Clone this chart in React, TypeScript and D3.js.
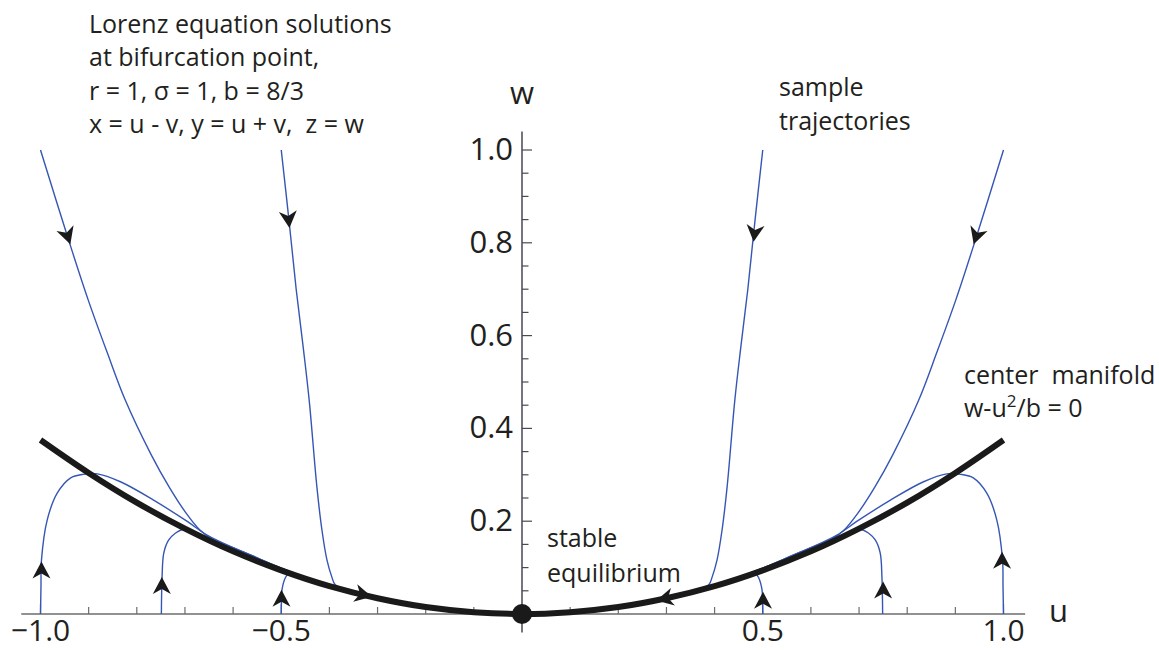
import React from 'react';
import * as d3 from 'd3';

const W = 1159;
const H = 650;

// center manifold w = u^2/b
const manifoldU = [-1.0, -0.9, -0.8, -0.7, -0.6, -0.5, -0.4, -0.3, -0.2, -0.1, 0, 0.1, 0.2, 0.3, 0.4, 0.5, 0.6, 0.7, 0.8, 0.9, 1.0];
const manifoldW = [0.375, 0.304, 0.240, 0.184, 0.135, 0.094, 0.060, 0.034, 0.015, 0.004, 0, 0.004, 0.015, 0.034, 0.060, 0.094, 0.135, 0.184, 0.240, 0.304, 0.375];

// sample trajectories, [u, w]
const trajTopLeftOuter = [[-1.0, 1.0], [-0.941, 0.804], [-0.901, 0.677], [-0.862, 0.565], [-0.824, 0.461], [-0.77, 0.343], [-0.733, 0.274], [-0.698, 0.218], [-0.669, 0.181], [-0.64, 0.159], [-0.6, 0.143], [-0.55, 0.121], [-0.5, 0.099], [-0.45, 0.079], [-0.4, 0.062]];
const trajTopLeftInner = [[-0.5, 1.0], [-0.484, 0.849], [-0.469, 0.7], [-0.455, 0.58], [-0.442, 0.461], [-0.426, 0.274], [-0.4155, 0.181], [-0.405, 0.116], [-0.395, 0.08], [-0.388, 0.063], [-0.37, 0.054], [-0.34, 0.045]];
const trajBottomLeftOuter = [[-1.0, 0.0], [-0.999, 0.06], [-0.998, 0.116], [-0.986, 0.203], [-0.965, 0.261], [-0.938, 0.293], [-0.911, 0.301], [-0.882, 0.302], [-0.834, 0.285], [-0.766, 0.246], [-0.696, 0.2], [-0.654, 0.17], [-0.6, 0.143], [-0.55, 0.121], [-0.5, 0.099], [-0.45, 0.079], [-0.4, 0.062]];
const trajBottomLeftMid = [[-0.749, 0.0], [-0.7485, 0.04], [-0.7475, 0.08], [-0.744, 0.131], [-0.734, 0.159], [-0.72, 0.174], [-0.703, 0.182], [-0.68, 0.172], [-0.64, 0.153], [-0.6, 0.135], [-0.55, 0.113]];
const trajBottomLeftInner = [[-0.5, 0.0], [-0.4995, 0.03], [-0.4985, 0.052], [-0.4917, 0.0776], [-0.4855, 0.086], [-0.47, 0.083], [-0.45, 0.076]];

const trajTopRightOuter = [[1.0, 1.0], [0.941, 0.804], [0.901, 0.677], [0.862, 0.565], [0.824, 0.461], [0.77, 0.343], [0.733, 0.274], [0.698, 0.218], [0.669, 0.181], [0.64, 0.159], [0.6, 0.143], [0.55, 0.121], [0.5, 0.099], [0.45, 0.079], [0.4, 0.062]];
const trajTopRightInner = [[0.5, 1.0], [0.484, 0.849], [0.469, 0.7], [0.455, 0.58], [0.442, 0.461], [0.426, 0.274], [0.4155, 0.181], [0.405, 0.116], [0.395, 0.08], [0.388, 0.063], [0.37, 0.054], [0.34, 0.045]];
const trajBottomRightOuter = [[1.0, 0.0], [0.999, 0.06], [0.998, 0.116], [0.986, 0.203], [0.965, 0.261], [0.938, 0.293], [0.911, 0.301], [0.882, 0.302], [0.834, 0.285], [0.766, 0.246], [0.696, 0.2], [0.654, 0.17], [0.6, 0.143], [0.55, 0.121], [0.5, 0.099], [0.45, 0.079], [0.4, 0.062]];
const trajBottomRightMid = [[0.749, 0.0], [0.7485, 0.04], [0.7475, 0.08], [0.744, 0.131], [0.734, 0.159], [0.72, 0.174], [0.703, 0.182], [0.68, 0.172], [0.64, 0.153], [0.6, 0.135], [0.55, 0.113]];
const trajBottomRightInner = [[0.5, 0.0], [0.4995, 0.03], [0.4985, 0.052], [0.4917, 0.0776], [0.4855, 0.086], [0.47, 0.083], [0.45, 0.076]];

const trajectories = [
  trajTopLeftOuter, trajTopLeftInner, trajBottomLeftOuter, trajBottomLeftMid, trajBottomLeftInner,
  trajTopRightOuter, trajTopRightInner, trajBottomRightOuter, trajBottomRightMid, trajBottomRightInner,
];

// arrowheads: tip and a point just behind it, [u, w]
const arrowTips = [[-0.938, 0.797], [-0.483, 0.832], [-0.998, 0.113], [-0.748, 0.08], [-0.4995, 0.052], [-0.312, 0.037],
  [0.938, 0.797], [0.481, 0.802], [0.997, 0.134], [0.75, 0.07], [0.5006, 0.048], [0.279, 0.029]];
const arrowTails = [[-0.96, 0.866], [-0.4875, 0.881], [-0.998, 0.05], [-0.748, 0.03], [-0.4995, 0.01], [-0.36, 0.0486],
  [0.96, 0.866], [0.4875, 0.86], [0.997, 0.07], [0.75, 0.02], [0.5006, 0.01], [0.33, 0.041]];

const xTickValues = [-1.0, -0.5, 0.5, 1.0];
const xTickLabels = ['\u22121.0', '\u22120.5', '0.5', '1.0'];
const yTickValues = [0.2, 0.4, 0.6, 0.8, 1.0];
const yTickLabels = ['0.2', '0.4', '0.6', '0.8', '1.0'];

const titleLines = ['Lorenz equation solutions', 'at bifurcation point,', 'r = 1, \u03c3 = 1, b = 8/3', 'x = u - v, y = u + v,  z = w'];

const FONT = "'Open Sans', 'DejaVu Sans', sans-serif";
const INK = '#231f20';
const BLUE = '#3556b4';

export default function App() {
  const x = d3.scaleLinear().domain([-1, 1]).range([40.5, 1003.5]);
  const y = d3.scaleLinear().domain([0, 1]).range([614, 150]);

  const line = d3.line<number[]>().x((d) => x(d[0])).y((d) => y(d[1])).curve(d3.curveCatmullRom.alpha(0.5));
  const manifold = manifoldU.map((u, i) => [u, manifoldW[i]]);

  const xMinor = d3.range(-10, 11).map((i) => i / 10).filter((v) => Math.abs(v) > 1e-9);
  const yMinor = d3.range(1, 21).map((i) => i / 20);

  const arrowPath = 'M0,0 L-17,-9 L-12,0 L-17,9 Z';

  return (
    <svg width={W} height={H} style={{ position: 'absolute', left: 0, top: 0, background: '#fff' }} fontFamily={FONT}>
      {/* x axis */}
      <line x1={x(-1.04)} x2={x(1.045)} y1={y(0)} y2={y(0)} stroke="#6d6d6d" strokeWidth={1.3} />
      {xMinor.map((v) => {
        const major = Math.abs(v * 2 - Math.round(v * 2)) < 1e-9;
        return <line key={'xt' + v} x1={x(v)} x2={x(v)} y1={y(0)} y2={y(0) - (major ? 10 : 7)} stroke="#6d6d6d" strokeWidth={1.2} />;
      })}
      {xTickValues.map((v, i) => (
        <text key={'xl' + v} x={x(v)} y={641} textAnchor="middle" fontSize={30} fill={INK}>{xTickLabels[i]}</text>
      ))}
      <text x={1049} y={622} fontSize={31} fill={INK}>u</text>

      {/* y axis */}
      <line x1={x(0)} x2={x(0)} y1={y(-0.04)} y2={y(1.04)} stroke="#2b2b3a" strokeWidth={1.3} />
      {yMinor.map((v) => {
        const major = Math.abs(v * 5 - Math.round(v * 5)) < 1e-9;
        return <line key={'yt' + v} x1={x(0)} x2={x(0) + (major ? 10 : 6.5)} y1={y(v)} y2={y(v)} stroke="#4a4a55" strokeWidth={1.2} />;
      })}
      {yTickValues.map((v, i) => (
        <text key={'yl' + v} x={513} y={y(v) + 10} textAnchor="end" fontSize={31} fill={INK}>{yTickLabels[i]}</text>
      ))}
      <text x={x(0)} y={104} textAnchor="middle" fontSize={31} fill={INK}>w</text>

      {/* trajectories */}
      {trajectories.map((t, i) => (
        <path key={'tr' + i} d={line(t) || ''} fill="none" stroke={BLUE} strokeWidth={1.4} />
      ))}

      {/* center manifold */}
      <path d={line(manifold) || ''} fill="none" stroke="#1a1a1a" strokeWidth={6} strokeLinecap="butt" />

      {/* arrowheads */}
      {arrowTips.map((tip, i) => {
        const tx = x(tip[0]);
        const ty = y(tip[1]);
        const fx = x(arrowTails[i][0]);
        const fy = y(arrowTails[i][1]);
        const ang = (Math.atan2(ty - fy, tx - fx) * 180) / Math.PI;
        return <path key={'ar' + i} d={arrowPath} transform={`translate(${tx},${ty}) rotate(${ang})`} fill="#1a1a1a" />;
      })}

      {/* equilibrium */}
      <circle cx={x(0)} cy={y(0)} r={10} fill="#1a1a1a" />

      {/* annotations */}
      {titleLines.map((s, i) => (
        <text key={'tl' + i} x={89} y={33 + i * 33.4} fontSize={25} fill={INK} style={{ whiteSpace: 'pre' }}>{s}</text>
      ))}
      <text x={779} y={96} fontSize={25} fill={INK}>sample</text>
      <text x={779} y={130} fontSize={25} fill={INK}>trajectories</text>
      <text x={964} y={384} fontSize={25} fill={INK} style={{ whiteSpace: 'pre' }}>center  manifold</text>
      <text x={964} y={417} fontSize={25} fill={INK}>
        w-u<tspan dy={-10} fontSize={17}>2</tspan><tspan dy={10}>/b = 0</tspan>
      </text>
      <text x={547} y={547} fontSize={25} fill={INK}>stable</text>
      <text x={547} y={582} fontSize={25} fill={INK}>equilibrium</text>
    </svg>
  );
}
